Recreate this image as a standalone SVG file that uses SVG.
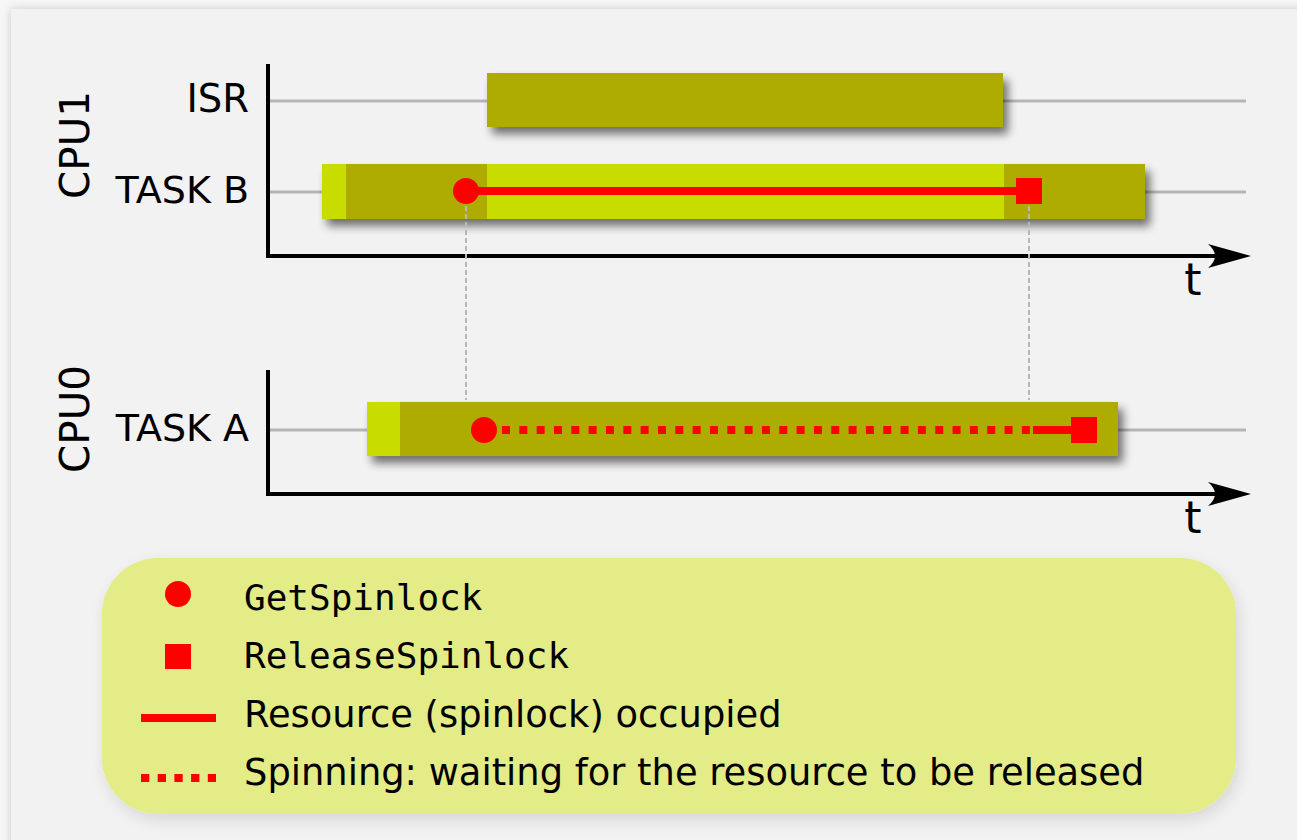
<svg xmlns="http://www.w3.org/2000/svg" width="1297" height="840" viewBox="0 0 1297 840">
  <defs>
    <filter id="panelShadow" x="-5%" y="-5%" width="110%" height="110%">
      <feGaussianBlur in="SourceAlpha" stdDeviation="5"/>
      <feOffset dx="0" dy="0" result="b"/>
      <feComponentTransfer><feFuncA type="linear" slope="0.18"/></feComponentTransfer>
      <feMerge><feMergeNode/><feMergeNode in="SourceGraphic"/></feMerge>
    </filter>
    <filter id="barShadow" x="-5%" y="-30%" width="110%" height="170%">
      <feGaussianBlur in="SourceAlpha" stdDeviation="5"/>
      <feOffset dx="5" dy="7" result="b"/>
      <feComponentTransfer><feFuncA type="linear" slope="0.55"/></feComponentTransfer>
      <feMerge><feMergeNode/><feMergeNode in="SourceGraphic"/></feMerge>
    </filter>
    <filter id="legendShadow" x="-5%" y="-10%" width="110%" height="125%">
      <feGaussianBlur in="SourceAlpha" stdDeviation="8"/>
      <feOffset dx="3" dy="6" result="b"/>
      <feComponentTransfer><feFuncA type="linear" slope="0.12"/></feComponentTransfer>
      <feMerge><feMergeNode/><feMergeNode in="SourceGraphic"/></feMerge>
    </filter>
    <style>
      .lbl { font-family: "DejaVu Sans", Verdana, sans-serif; fill: #000; }
      .mono { font-family: "DejaVu Sans Mono", "Liberation Mono", monospace; fill: #000; }
      .lane { stroke: #b5b5b5; stroke-width: 3; fill: none; }
      .axis { stroke: #000; stroke-width: 4; fill: none; }
      .guide { stroke: #b8b8b8; stroke-width: 2; stroke-dasharray: 5 3; fill: none; }
      .dark { fill: #aeac00; }
      .light { fill: #c8dc00; }
      .red { fill: #ff0000; }
      .held { stroke: #ff0000; stroke-width: 8; fill: none; }
      .spin { stroke: #ff0000; stroke-width: 8; stroke-dasharray: 8 9.33; fill: none; }
    </style>
  </defs>

  <!-- page and panel -->
  <rect x="0" y="0" width="1297" height="840" fill="#f6f6f6"/>
  <rect x="11" y="9" width="1300" height="850" fill="#f2f2f2" filter="url(#panelShadow)"/>

  <!-- CPU1 -->
  <g id="cpu1">
    <text class="lbl" font-size="40.5" transform="translate(89,199) rotate(-90)">CPU1</text>
    <text class="lbl" font-size="38.5" x="249" y="112" text-anchor="end">ISR</text>
    <text class="lbl" font-size="38" x="249" y="203" text-anchor="end">TASK B</text>
    <line class="lane" x1="270" y1="101" x2="1246" y2="101"/>
    <line class="lane" x1="270" y1="192" x2="1246" y2="192"/>
  </g>

  <!-- CPU0 -->
  <g id="cpu0">
    <text class="lbl" font-size="40.5" transform="translate(89,473) rotate(-90)">CPU0</text>
    <text class="lbl" font-size="38" x="249" y="441" text-anchor="end">TASK A</text>
    <line class="lane" x1="270" y1="430" x2="1246" y2="430"/>
  </g>

  <!-- execution bars -->
  <g id="isr-bar">
    <rect class="dark" x="487" y="73" width="516" height="54" filter="url(#barShadow)"/>
  </g>
  <g id="taskb-bar" filter="url(#barShadow)">
    <rect class="light" x="322" y="164" width="24" height="55"/>
    <rect class="dark" x="346" y="164" width="141" height="55"/>
    <rect class="light" x="487" y="164" width="517" height="55"/>
    <rect class="dark" x="1004" y="164" width="141" height="55"/>
  </g>
  <g id="taska-bar" filter="url(#barShadow)">
    <rect class="light" x="367" y="402" width="33" height="54"/>
    <rect class="dark" x="400" y="402" width="718" height="54"/>
  </g>

  <!-- connectors: axes, guides, lock intervals -->
  <g id="connectors">
    <polyline class="axis" points="268,64 268,256 1215,256"/>
    <path d="M1251,256 L1208,244 Q1222,256 1208,268 Z" fill="#000"/>
    <polyline class="axis" points="268,370 268,494 1215,494"/>
    <path d="M1251,494 L1208,482 Q1222,494 1208,506 Z" fill="#000"/>

    <line class="guide" x1="466" y1="206" x2="466" y2="400"/>
    <line class="guide" x1="1029" y1="206" x2="1029" y2="400"/>

    <line class="held" x1="466" y1="191" x2="1029" y2="191"/>
    <line class="spin" x1="502" y1="430" x2="1030" y2="430"/>
    <line class="held" x1="1033" y1="430" x2="1080" y2="430"/>
  </g>

  <g id="lock-marks">
    <circle class="red" cx="466" cy="191" r="13"/>
    <rect class="red" x="1016" y="178" width="26" height="26"/>
    <circle class="red" cx="484" cy="430" r="13"/>
    <rect class="red" x="1071" y="417" width="26" height="26"/>
  </g>

  <g id="t-labels">
    <text class="lbl" font-size="44" x="1193" y="295" text-anchor="middle">t</text>
    <text class="lbl" font-size="44" x="1193" y="533" text-anchor="middle">t</text>
  </g>

  <!-- legend -->
  <g id="legend">
    <rect x="102" y="558" width="1134" height="256" rx="56" ry="56" fill="#e4ec88" filter="url(#legendShadow)"/>
    <circle class="red" cx="178" cy="594" r="13"/>
    <rect class="red" x="165" y="644" width="26" height="25"/>
    <line class="held" x1="141" y1="718" x2="216" y2="718"/>
    <line class="held" x1="141" y1="778" x2="216" y2="778" stroke-dasharray="8.3 8.4"/>
    <text class="mono" font-size="36" x="244" y="610">GetSpinlock</text>
    <text class="mono" font-size="36" x="244" y="668">ReleaseSpinlock</text>
    <text class="lbl" font-size="36.85" x="244" y="727">Resource (spinlock) occupied</text>
    <text class="lbl" font-size="36.85" x="244" y="785">Spinning: waiting for the resource to be released</text>
  </g>
</svg>
